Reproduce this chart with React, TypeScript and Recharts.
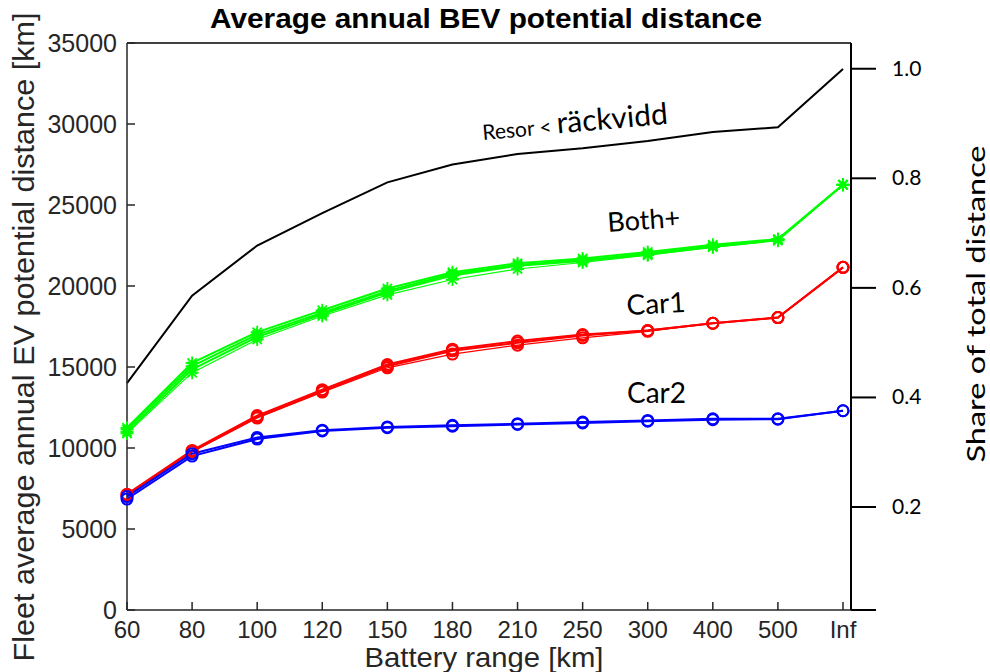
import React from "react";
import { LineChart, Line, XAxis, YAxis, ReferenceLine } from "recharts";

const ranges = ["60", "80", "100", "120", "150", "180", "210", "250", "300", "400", "500", "Inf"];

// Resor < räckvidd
const resor = [14000, 19400, 22500, 24500, 26400, 27500, 28150, 28500, 28950, 29500, 29800, 33400];

// Both+ (several runs, nearly on top of each other)
const both1 = [11250, 15250, 17150, 18500, 19850, 20850, 21400, 21700, 22100, 22550, 22900, 26250];
const both2 = [11150, 15050, 17000, 18350, 19700, 20750, 21300, 21600, 22000, 22450, 22850, 26250];
const both3 = [11000, 14850, 16850, 18250, 19600, 20650, 21250, 21550, 21950, 22400, 22850, 26250];
const both4 = [10900, 14650, 16700, 18150, 19450, 20400, 21050, 21450, 21900, 22400, 22800, 26250];

// Car1
const car1a = [7150, 9850, 12000, 13600, 15150, 16100, 16600, 17000, 17250, 17700, 18050, 21150];
const car1b = [7100, 9800, 11900, 13500, 15050, 16000, 16500, 16950, 17250, 17700, 18050, 21150];
const car1c = [7050, 9750, 11850, 13450, 14950, 15800, 16350, 16800, 17200, 17700, 18050, 21150];

// Car2
const car2a = [7000, 9650, 10650, 11100, 11300, 11400, 11500, 11600, 11700, 11800, 11800, 12300];
const car2b = [6850, 9500, 10550, 11050, 11250, 11350, 11450, 11550, 11650, 11750, 11780, 12300];

const leftTicks = [0, 5000, 10000, 15000, 20000, 25000, 30000, 35000];
const rightTicks = [0.012, 0.2, 0.4, 0.6, 0.8, 1.0];

const series = [
  { key: "resor", values: resor, color: "#000000", width: 2, mark: "none" },
  { key: "both1", values: both1, color: "#00ff00", width: 2, mark: "star" },
  { key: "both2", values: both2, color: "#00ff00", width: 2, mark: "star" },
  { key: "both3", values: both3, color: "#00ff00", width: 2, mark: "star" },
  { key: "both4", values: both4, color: "#00ff00", width: 1.2, mark: "star" },
  { key: "car1a", values: car1a, color: "#ff0000", width: 2, mark: "circle" },
  { key: "car1b", values: car1b, color: "#ff0000", width: 2, mark: "circle" },
  { key: "car1c", values: car1c, color: "#ff0000", width: 1.2, mark: "circle" },
  { key: "car2a", values: car2a, color: "#0000ff", width: 2, mark: "circle" },
  { key: "car2b", values: car2b, color: "#0000ff", width: 2, mark: "circle" },
];

const data = ranges.map((r, i) => {
  const row: any = { range: r };
  series.forEach((s) => {
    row[s.key] = s.values[i];
  });
  return row;
});

const AXIS_GRAY = "#262626";
const ARIAL = "'Liberation Sans', Arial, sans-serif";
const CALIBRI = "Lato, 'Open Sans', sans-serif";

const Star = (props: any) => {
  const { cx, cy, stroke, index } = props;
  if (cx == null || cy == null) return null;
  const s = 6.5;
  const d = 4.6;
  return (
    <g key={index} stroke={stroke} strokeWidth={1.8}>
      <line x1={cx - s} y1={cy} x2={cx + s} y2={cy} />
      <line x1={cx} y1={cy - s} x2={cx} y2={cy + s} />
      <line x1={cx - d} y1={cy - d} x2={cx + d} y2={cy + d} />
      <line x1={cx - d} y1={cy + d} x2={cx + d} y2={cy - d} />
    </g>
  );
};

const XTick = (props: any) => {
  const { x, y, payload } = props;
  return (
    <g>
      <line x1={x} y1={y} x2={x} y2={y - 8} stroke={AXIS_GRAY} strokeWidth={1.5} />
      <text x={x} y={y + 28} textAnchor="middle" fontFamily={ARIAL} fontSize={24} fill={AXIS_GRAY}>
        {payload.value}
      </text>
    </g>
  );
};

const LeftTick = (props: any) => {
  const { x, y, payload } = props;
  return (
    <g>
      <line x1={x} y1={y} x2={x + 8} y2={y} stroke={AXIS_GRAY} strokeWidth={1.5} />
      <text x={x - 10} y={y + 9} textAnchor="end" fontFamily={ARIAL} fontSize={25} fill={AXIS_GRAY}>
        {payload.value}
      </text>
    </g>
  );
};

const RightTick = (props: any) => {
  const { y, payload } = props;
  const v = payload.value;
  if (v < 0.1) return null;
  return (
    <text x={892} y={y + 7} textAnchor="start" fontFamily={CALIBRI} fontSize={21} fill="#000">
      {v.toFixed(1)}
    </text>
  );
};

export default function App() {
  return (
    <div style={{ position: "absolute", left: 0, top: 0, width: 990, height: 672, background: "#fff" }}>
      <LineChart
        width={990}
        height={672}
        data={data}
        margin={{ top: 43, right: 79, bottom: 22, left: 67 }}
      >
        <XAxis
          dataKey="range"
          padding={{ left: 0, right: 8 }}
          tick={<XTick />}
          tickLine={false}
          tickSize={0}
          tickMargin={0}
          interval={0}
          height={40}
          axisLine={{ stroke: AXIS_GRAY, strokeWidth: 1.5 }}
        />
        <YAxis
          yAxisId="left"
          domain={[0, 35000]}
          ticks={leftTicks}
          tick={<LeftTick />}
          tickLine={false}
          tickSize={0}
          tickMargin={0}
          width={60}
          axisLine={{ stroke: AXIS_GRAY, strokeWidth: 1.5 }}
        />
        <YAxis
          yAxisId="right"
          orientation="right"
          type="number"
          domain={[0.012, 1.047]}
          allowDataOverflow
          ticks={rightTicks}
          tick={<RightTick />}
          tickSize={25}
          tickMargin={16}
          tickLine={{ stroke: "#000", strokeWidth: 2 }}
          width={60}
          axisLine={{ stroke: "#000", strokeWidth: 2 }}
        />
        <ReferenceLine yAxisId="left" y={35000} stroke="#000" strokeWidth={1.5} />
        {/* the share axis has no series of its own; this empty line keeps it drawn */}
        <Line yAxisId="right" dataKey="share" stroke="none" dot={false} activeDot={false} isAnimationActive={false} legendType="none" />
        {series.map((s) => (
          <Line
            key={s.key}
            yAxisId="left"
            type="linear"
            dataKey={s.key}
            stroke={s.color}
            strokeWidth={s.width}
            isAnimationActive={false}
            dot={
              s.mark === "none"
                ? false
                : s.mark === "star"
                ? (p: any) => <Star {...p} key={p.index} />
                : { r: 5.5, fill: "none", stroke: s.color, strokeWidth: 2 }
            }
            activeDot={false}
          />
        ))}
      </LineChart>
      <svg
        width={990}
        height={672}
        style={{ position: "absolute", left: 0, top: 0, pointerEvents: "none" }}
      >
        <text x={486} y={28} textAnchor="middle" fontFamily={ARIAL} fontWeight="bold" fontSize={27} textLength={552} lengthAdjust="spacingAndGlyphs" fill="#000">
          Average annual BEV potential distance
        </text>
        <text x={484} y={667} textAnchor="middle" fontFamily={ARIAL} fontSize={28} textLength={239} lengthAdjust="spacingAndGlyphs" fill={AXIS_GRAY}>
          Battery range [km]
        </text>
        <text transform="translate(34,337) rotate(-90)" textAnchor="middle" fontFamily={ARIAL} fontSize={29} textLength={649} lengthAdjust="spacingAndGlyphs" fill={AXIS_GRAY}>
          Fleet average annual EV potential distance [km]
        </text>
        <text transform="translate(985,304) rotate(-90)" textAnchor="middle" fontFamily={CALIBRI} fontSize={25} textLength={317} lengthAdjust="spacingAndGlyphs" fill="#000">
          Share of total distance
        </text>
        <text transform="translate(483,140) rotate(-5)" fontFamily={CALIBRI} fill="#000">
          <tspan fontSize={21}>Resor &lt; </tspan>
          <tspan fontSize={30}>räckvidd</tspan>
        </text>
        <text transform="translate(608,232) rotate(-4)" fontFamily={CALIBRI} fontSize={27} fill="#000">
          Both+
        </text>
        <text transform="translate(627,315) rotate(-3)" fontFamily={CALIBRI} fontSize={28} fill="#000">
          Car1
        </text>
        <text x={627} y={403} fontFamily={CALIBRI} fontSize={28} fill="#000">
          Car2
        </text>
      </svg>
    </div>
  );
}
